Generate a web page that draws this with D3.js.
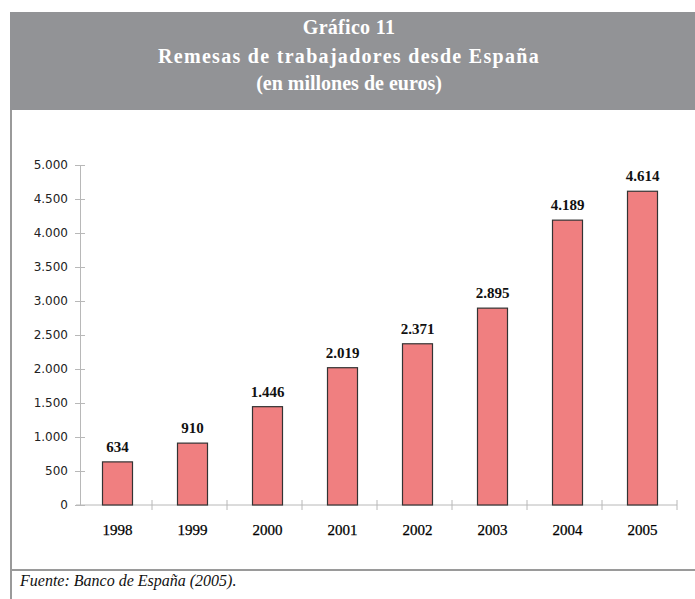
<!DOCTYPE html>
<html>
<head>
<meta charset="utf-8">
<script src="https://cdn.jsdelivr.net/npm/d3@7"></script>
<style>
  html, body { margin: 0; padding: 0; background: #fff; }
  svg { display: block; }
</style>
</head>
<body>
<svg id="chart" width="695" height="599"></svg>
<script>
const titleLines = ["Gráfico 11", "Remesas de trabajadores desde España", "(en millones de euros)"];
const sourceText = "Fuente: Banco de España (2005).";
const years = ["1998", "1999", "2000", "2001", "2002", "2003", "2004", "2005"];
const remittances = [634, 910, 1446, 2019, 2371, 2895, 4189, 4614];
const yTicks = [0, 500, 1000, 1500, 2000, 2500, 3000, 3500, 4000, 4500, 5000];

const svg = d3.select("#chart");
const W = 695, H = 599;
const locale = d3.formatLocale({ decimal: ",", thousands: ".", grouping: [3], currency: ["", " €"] });
const fmt = locale.format(",d");

// Header band
svg.append("rect").attr("x", 10).attr("y", 12).attr("width", W - 10).attr("height", 98).attr("fill", "#929396");
const titleY = [34, 63, 90];
const titleSpacing = [0.3, 1.3, 0];
svg.selectAll("text.title").data(titleLines).join("text")
  .attr("class", "title")
  .attr("x", 349).attr("y", (d, i) => titleY[i])
  .attr("text-anchor", "middle")
  .attr("font-family", "Liberation Serif, serif")
  .attr("font-weight", "bold").attr("font-size", 20)
  .attr("letter-spacing", (d, i) => titleSpacing[i])
  .attr("fill", "#fff")
  .text(d => d);

// Frame lines
svg.append("line").attr("x1", 11).attr("x2", 11).attr("y1", 110).attr("y2", H)
  .attr("stroke", "#9a9a9a").attr("stroke-width", 2);
svg.append("line").attr("x1", 10).attr("x2", W).attr("y1", 570).attr("y2", 570)
  .attr("stroke", "#9a9a9a").attr("stroke-width", 2);

svg.append("text").attr("x", 20).attr("y", 586)
  .attr("font-family", "Liberation Serif, serif").attr("font-style", "italic")
  .attr("font-size", 16).attr("fill", "#111")
  .text(sourceText);

// Scales
const x = d3.scaleBand().domain(years).range([80, 680]).paddingInner(0.6).paddingOuter(0.3);
const y = d3.scaleLinear().domain([0, 5000]).range([505, 165]);

// Y axis
const gy = svg.append("g").attr("transform", "translate(80,0)")
  .call(d3.axisLeft(y).tickValues(yTicks).tickFormat(fmt).tickSizeInner(4).tickSizeOuter(0).tickPadding(8));
gy.select(".domain").attr("stroke", "#b8b8b8");
gy.selectAll(".tick line").attr("stroke", "#b8b8b8").attr("x1", 5).attr("x2", -5);
gy.selectAll(".tick text").attr("font-family", "DejaVu Sans, sans-serif").attr("font-size", 12).attr("fill", "#222");

// X axis (ticks at band boundaries)
const gx = svg.append("g").attr("transform", "translate(0,505)");
gx.append("line").attr("x1", 76).attr("x2", 677).attr("y1", 0).attr("y2", 0).attr("stroke", "#b8b8b8");
const step = x.step();
const boundaries = years.map(d => x(d) - x.paddingOuter() * step + step);
gx.selectAll("line.bt").data(boundaries).join("line").attr("class", "bt")
  .attr("x1", d => d - 3).attr("x2", d => d - 3).attr("y1", -5).attr("y2", 5).attr("stroke", "#b8b8b8");
gx.selectAll("text.yr").data(years).join("text").attr("class", "yr")
  .attr("x", d => x(d) + x.bandwidth() / 2).attr("y", 30)
  .attr("text-anchor", "middle")
  .attr("font-family", "Liberation Serif, serif").attr("font-size", 15).attr("fill", "#000")
  .attr("stroke", "#000").attr("stroke-width", 0.25)
  .text(d => d);

// Bars
const data = years.map((yr, i) => ({ yr, v: remittances[i] }));
svg.selectAll("rect.bar").data(data).join("rect").attr("class", "bar")
  .attr("x", d => x(d.yr)).attr("width", x.bandwidth())
  .attr("y", d => y(d.v)).attr("height", d => y(0) - y(d.v))
  .attr("fill", "#f07f80").attr("stroke", "#333").attr("stroke-width", 1.2);

svg.selectAll("text.val").data(data).join("text").attr("class", "val")
  .attr("x", d => x(d.yr) + x.bandwidth() / 2).attr("y", d => y(d.v) - 10)
  .attr("text-anchor", "middle")
  .attr("font-family", "Liberation Serif, serif").attr("font-weight", "bold")
  .attr("font-size", 15).attr("fill", "#111")
  .text(d => fmt(d.v));
</script>
</body>
</html>
